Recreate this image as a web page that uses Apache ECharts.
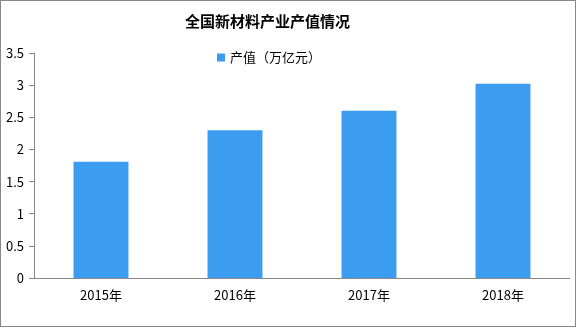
<!DOCTYPE html>
<html><head><meta charset="utf-8">
<script src="https://cdn.jsdelivr.net/npm/echarts@6/dist/echarts.min.js"></script>
<style>html,body{margin:0;padding:0;background:#fff}#c{width:576px;height:327px;box-sizing:border-box;border:1px solid #888}</style>
</head><body><div id="c"></div>
<script>
const categories = ['2015年','2016年','2017年','2018年'];
const values = [1.81, 2.3, 2.6, 3.02];
const seriesName = '产值（万亿元）';
const titleText = '全国新材料产业产值情况';
const chart = echarts.init(document.getElementById('c'));
const font = '"Noto Sans CJK SC", sans-serif';
chart.setOption({
  animation:false,
  title:{text:titleText,left:179,top:8,textStyle:{fontFamily:font,fontSize:15,fontWeight:'bold',color:'#000'}},
  legend:{top:45,left:211,itemWidth:8,itemHeight:8,icon:'rect',itemGap:3,textStyle:{fontFamily:font,fontSize:13,color:'#000'},data:[seriesName]},
  grid:{left:33,right:5,top:52,bottom:48},
  xAxis:{type:'category',data:categories,axisLine:{lineStyle:{color:'#888'}},axisTick:{length:5,lineStyle:{color:'#888'}},
    axisLabel:{fontFamily:font,fontSize:13,color:'#000',margin:11}},
  yAxis:{type:'value',min:0,max:3.5,interval:0.5,splitLine:{show:false},axisLine:{show:true,lineStyle:{color:'#888'}},
    axisTick:{show:true,length:5,lineStyle:{color:'#888'}},axisLabel:{fontFamily:font,fontSize:13,color:'#000',margin:10}},
  series:[{name:seriesName,type:'bar',data:values,barWidth:'41%',itemStyle:{color:'#3C9DF0'}}]
});
</script></body></html>
